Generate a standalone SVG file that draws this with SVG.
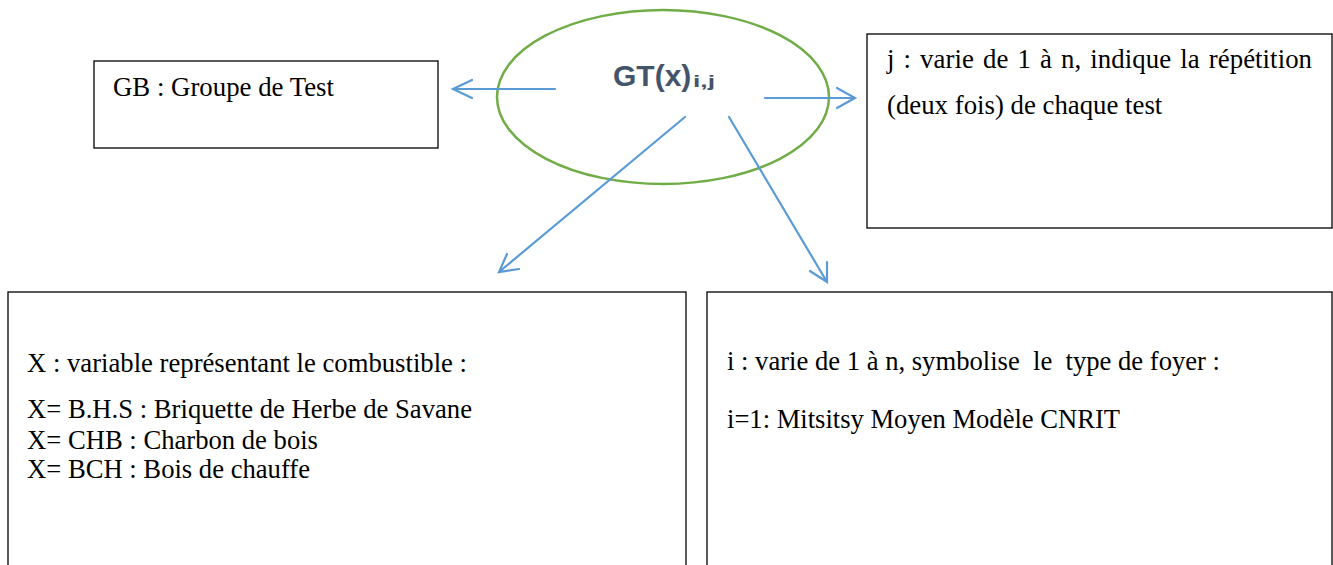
<svg xmlns="http://www.w3.org/2000/svg" width="1333" height="565" viewBox="0 0 1333 565">
<style>
.box{fill:#fff;stroke:#000;stroke-width:1.3}
text.t{font-family:'Liberation Serif','Times New Roman',serif;font-size:26.8px;fill:#000}
.c{fill:none;stroke:#5B9BD5;stroke-width:2.2;stroke-linecap:round}
text.gt{font-family:'Liberation Sans',Arial,sans-serif;font-weight:bold;fill:#44546A}
</style>
<rect width="1333" height="565" fill="#fff"/>
<g id="node-gb">
<rect class="box" x="94" y="61" width="344" height="87"/>
<text class="t" x="113" y="96">GB : Groupe de Test</text>
</g>
<g id="node-j">
<rect class="box" x="867" y="34" width="465" height="194"/>
<text class="t" x="887" y="68" textLength="425" lengthAdjust="spacing" word-spacing="2.3">j : varie de 1 à n, indique la répétition</text>
<text class="t" x="887" y="114">(deux fois) de chaque test</text>
</g>
<g id="node-x">
<rect class="box" x="8" y="292" width="678" height="290"/>
<text class="t" x="27" y="372" textLength="440" lengthAdjust="spacingAndGlyphs">X : variable représentant le combustible :</text>
<text class="t" x="27" y="418" textLength="445" lengthAdjust="spacingAndGlyphs">X= B.H.S : Briquette de Herbe de Savane</text>
<text class="t" x="27" y="449" textLength="291" lengthAdjust="spacingAndGlyphs">X= CHB : Charbon de bois</text>
<text class="t" x="27" y="478" textLength="283" lengthAdjust="spacingAndGlyphs">X= BCH : Bois de chauffe</text>
</g>
<g id="node-i">
<rect class="box" x="707" y="292" width="625" height="290"/>
<text class="t" x="727" y="370" xml:space="preserve" textLength="493" lengthAdjust="spacingAndGlyphs">i : varie de 1 à n, symbolise  le  type de foyer :</text>
<text class="t" x="727" y="428" textLength="393" lengthAdjust="spacingAndGlyphs">i=1: Mitsitsy Moyen Modèle CNRIT</text>
</g>
<g id="node-gt">
<ellipse cx="663" cy="97" rx="166" ry="87" fill="none" stroke="#70AD47" stroke-width="2.5"/>
<text class="gt" x="613" y="86" font-size="30">GT(x)</text>
<text class="gt" x="693" y="87" font-size="17" textLength="22" lengthAdjust="spacingAndGlyphs">i,j</text>
</g>
<g id="connectors">
<path class="c" d="M555 89 L453 89 M472 80 L453 89 L472 98"/>
<path class="c" d="M765 98 L855 98 M837 88 L855 98 L837 108"/>
<path class="c" d="M685 117 L499 272 M507 254 L499 272 L519 269"/>
<path class="c" d="M729 117 L827 282 M827 262 L827 282 L810 271"/>
</g>
</svg>
